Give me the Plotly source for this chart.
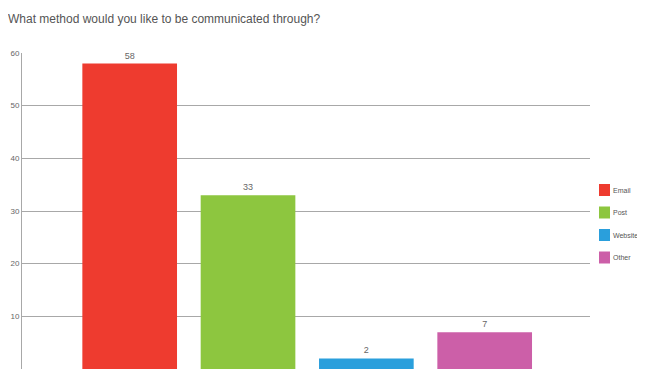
import plotly.graph_objects as go

categories = ["Email", "Post", "Website", "Other"]
values = [58, 33, 2, 7]
colors = ["#EE3B2F", "#8DC63F", "#2A9FDC", "#CC5FA8"]
y_ticks = [0, 10, 20, 30, 40, 50, 60]

W, H = 637, 364
ML, MR, MT, MB = 14, 55, 45, 3
PW, PH = W - ML - MR, H - MT - MB

fig = go.Figure()
for i, (c, v, col) in enumerate(zip(categories, values, colors)):
    fig.add_trace(go.Bar(
        x=[i], y=[v], name=c,
        marker=dict(color=col, line=dict(width=0)),
        width=0.8, text=[str(v)], textposition="outside",
        textfont=dict(size=9, color="#666666"), cliponaxis=False,
    ))

# legend drawn beside the plot (square swatch + label per category)
shapes, annotations = [], []
for i, (c, col) in enumerate(zip(categories, colors)):
    cy = 182 + i * 22.5  # px from top of figure
    y0 = (H - MB - (cy + 6)) / PH
    y1 = (H - MB - (cy - 6)) / PH
    shapes.append(dict(type="rect", xref="paper", yref="paper",
                       x0=(591 - ML) / PW, x1=(602 - ML) / PW, y0=y0, y1=y1,
                       fillcolor=col, line=dict(width=0)))
    annotations.append(dict(text=c, xref="paper", yref="paper",
                            x=(603 - ML) / PW, y=(H - MB - cy) / PH,
                            xanchor="left", yanchor="middle", showarrow=False,
                            font=dict(size=7, color="#555555")))

fig.update_layout(
    width=W, height=H,
    margin=dict(l=ML, r=MR, t=MT, b=MB),
    paper_bgcolor="white", plot_bgcolor="white",
    font=dict(family="Liberation Sans, Arial, sans-serif", color="#666666"),
    title=dict(text="What method would you like to be communicated through?",
               xref="container", x=0, xanchor="left",
               yref="container", y=0.97, yanchor="middle",
               pad=dict(l=0, r=0, t=0, b=0),
               font=dict(size=12, color="#555555")),
    barmode="overlay",
    showlegend=False,
    shapes=shapes,
    annotations=annotations,
    xaxis=dict(range=[-0.91, 3.89], showticklabels=False, showgrid=False,
               zeroline=False, showline=False, ticks="", automargin=False),
    yaxis=dict(range=[0, 60], tickvals=y_ticks, showgrid=True,
               gridcolor="#A8A8A8", gridwidth=1, showline=True,
               linecolor="#A8A8A8", linewidth=1, ticks="", automargin=False,
               tickfont=dict(size=8, color="#666666"), zeroline=False),
)

fig.write_html("out.html")
